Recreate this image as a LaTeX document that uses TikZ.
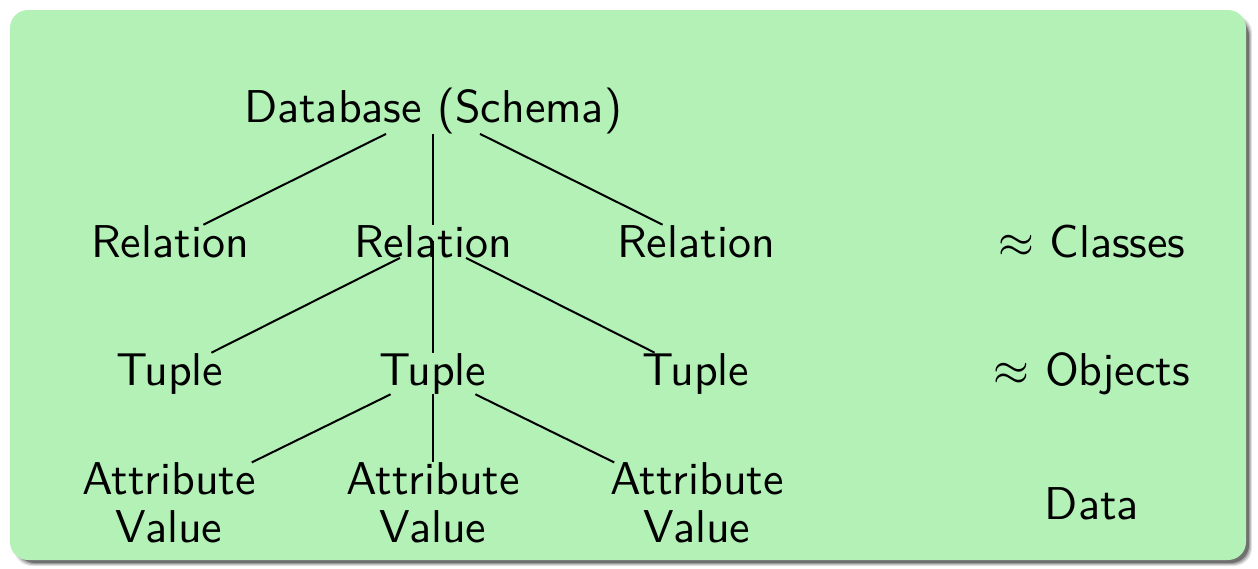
\documentclass[tikz,border=0pt]{standalone}
\definecolor{boxgreen}{RGB}{179,241,183}
\newcommand\bigtxt[1]{\scalebox{2.3}{#1}}
\begin{document}
\begin{tikzpicture}[x=0.5pt,y=-0.5pt,
  lbl/.style={inner sep=0pt, font=\fontsize{10}{24}\selectfont\sffamily},
  twoline/.style={lbl, align=center},
  edge/.style={line width=1pt, black}]
\useasboundingbox (0,0) rectangle (1258,568);
% shadow
\foreach \e/\op in {3/0.10,2/0.14,1/0.18,0/0.30}
  \fill[black,opacity=\op,rounded corners=9pt] ({17-\e},{18-\e}) rectangle ({1249+\e},{563+\e});
% box
\fill[boxgreen,rounded corners=9pt] (10,10) rectangle (1246,560);
% tree
\node[lbl,anchor=base] (db) at (433,122) {\bigtxt{Database (Schema)}};
\node[lbl,anchor=base] (rel1) at (170,257) {\bigtxt{Relation}};
\node[lbl,anchor=base] (rel2) at (433,257) {\bigtxt{Relation}};
\node[lbl,anchor=base] (rel3) at (696,257) {\bigtxt{Relation}};
\node[lbl,anchor=base] (tup1) at (170,385) {\bigtxt{Tuple}};
\node[lbl,anchor=base] (tup2) at (433,385) {\bigtxt{Tuple}};
\node[lbl,anchor=base] (tup3) at (696,385) {\bigtxt{Tuple}};
\node[twoline] (att1) at (169,503) {\bigtxt{Attribute}\\\bigtxt{Value}};
\node[twoline] (att2) at (433,503) {\bigtxt{Attribute}\\\bigtxt{Value}};
\node[twoline] (att3) at (697,503) {\bigtxt{Attribute}\\\bigtxt{Value}};
\node[lbl,anchor=base] (cls) at (1092,257) {\bigtxt{$\approx$ Classes}};
\node[lbl,anchor=base] (obj) at (1092,385) {\bigtxt{$\approx$ Objects}};
\node[lbl,anchor=base] (dat) at (1092,519) {\bigtxt{Data}};
\draw[edge] (db) -- (rel1);
\draw[edge] (db) -- (rel2);
\draw[edge] (db) -- (rel3);
\draw[edge] (rel2) -- (tup1);
\draw[edge] (rel2.center) -- (tup2);
\draw[edge] (rel2) -- (tup3);
\draw[edge] (tup2) -- (att1);
\draw[edge] (tup2) -- (att2);
\draw[edge] (tup2) -- (att3);
\end{tikzpicture}
\end{document}
